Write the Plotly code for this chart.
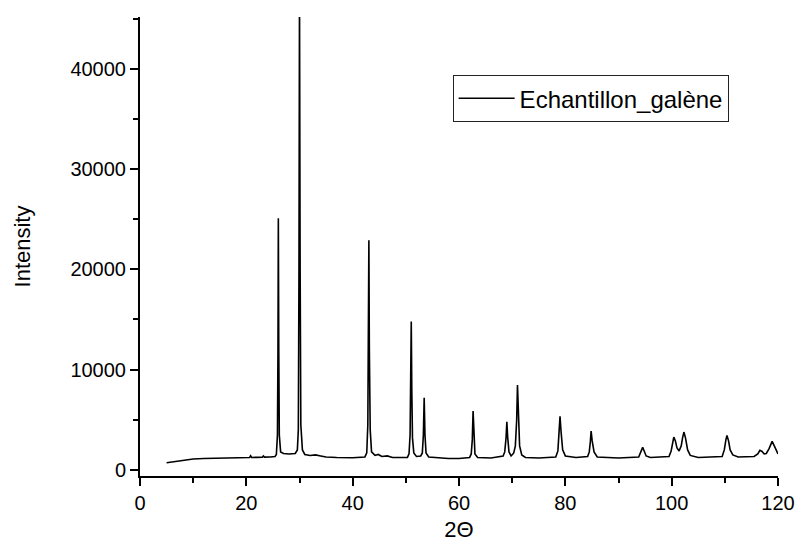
import plotly.graph_objects as go

two_theta = [
    5.0, 6, 7, 8, 9, 10, 12, 14, 16, 18, 20, 20.6, 20.8, 21.0, 22, 23.0, 23.2, 23.4, 24.5, 25.4,
    25.65, 25.85, 25.95, 26.02, 26.1, 26.2, 26.45, 27.0, 28, 29.2, 29.6,
    29.78, 29.9, 30.0, 30.12, 30.25, 30.55, 31, 32, 33, 34, 35, 37, 40, 42.3,
    42.65, 42.85, 42.98, 43.05, 43.14, 43.3, 43.55, 44.2, 44.8, 45.5, 46.5, 47.5, 50.3,
    50.6, 50.8, 50.92, 51.02, 51.12, 51.25, 51.5, 52, 52.8,
    53.1, 53.3, 53.45, 53.6, 53.8, 54.3, 56, 58, 60, 62.0,
    62.3, 62.5, 62.65, 62.8, 63.0, 63.5, 66, 68.3,
    68.6, 68.85, 69.0, 69.15, 69.4, 69.8, 70.3,
    70.6, 70.85, 71.0, 71.15, 71.4, 71.8, 72.5, 75, 78.2,
    78.6, 78.85, 79.0, 79.2, 79.5, 80, 82, 84.2,
    84.5, 84.7, 84.85, 85.05, 85.4, 86, 90, 93.8,
    94.1, 94.35, 94.55, 94.8, 95.2, 96, 99.5,
    99.9, 100.2, 100.4, 100.7, 101.0, 101.4, 101.8,
    102.05, 102.3, 102.6, 103.0, 103.5, 105, 109.5,
    109.9, 110.2, 110.4, 110.7, 111.0, 111.5, 112.5, 115.5,
    116.2, 116.6, 117.0, 117.4, 117.8,
    118.3, 118.7, 118.9, 119.3, 119.7, 120.0,
]
intensity = [
    720, 800, 900, 980, 1050, 1100, 1150, 1180, 1200, 1220, 1230, 1240, 1420, 1250, 1260, 1270, 1400, 1280, 1300, 1350,
    1550, 3500, 12000, 25100, 12000, 3500, 1800, 1650, 1600, 1650, 2000,
    4000, 20000, 48000, 20000, 4500, 2000, 1550, 1450, 1500, 1400, 1300, 1250, 1220, 1300,
    1700, 4500, 12000, 22900, 12000, 4000, 1800, 1450, 1550, 1350, 1400, 1250, 1250,
    1600, 3500, 8000, 14800, 8000, 3200, 1700, 1350, 1400,
    1700, 3500, 7200, 3500, 1700, 1300, 1200, 1150, 1150, 1250,
    1600, 3000, 5870, 3000, 1600, 1250, 1200, 1400,
    1800, 3200, 4800, 3300, 1800, 1400, 1700,
    2400, 5000, 8460, 5000, 2400, 1500, 1250, 1200, 1300,
    1900, 3500, 5340, 3800, 2000, 1400, 1250, 1350,
    1800, 2800, 3880, 2900, 1800, 1300, 1200, 1300,
    1600, 2000, 2260, 1900, 1400, 1250, 1350,
    1900, 2800, 3280, 2900, 2200, 1900, 2400,
    3200, 3780, 3200, 2000, 1450, 1250, 1350,
    2000, 3000, 3450, 2900, 2000, 1500, 1300, 1350,
    1600, 1960, 1850, 1600, 1650,
    2100, 2700, 2850, 2400, 1900, 1590,
]

x_ticks = [0, 20, 40, 60, 80, 100, 120]
y_ticks = [0, 10000, 20000, 30000, 40000]

FONT = "Liberation Sans, Arial, sans-serif"

fig = go.Figure()
fig.add_trace(go.Scatter(
    x=two_theta, y=intensity, mode="lines",
    name="Echantillon_galène",
    line=dict(color="black", width=1.6),
))

fig.update_layout(
    width=798, height=542, autosize=False,
    margin=dict(l=140, r=20, t=17, b=66),
    paper_bgcolor="white", plot_bgcolor="white",
    font=dict(family=FONT, color="black", size=20),
    showlegend=True,
    legend=dict(
        x=0.49, y=0.822, xanchor="left", yanchor="middle",
        bordercolor="#222222", borderwidth=1, bgcolor="white",
        font=dict(family=FONT, size=24, color="black"),
        itemwidth=56, tracegroupgap=0,
    ),
)
fig.update_xaxes(
    range=[0, 120], tickvals=x_ticks, ticktext=[str(v) for v in x_ticks],
    automargin=False,
    showgrid=False, zeroline=False, showline=True, linecolor="black", linewidth=2,
    ticks="outside", ticklen=8, tickwidth=1.8, tickcolor="black",
    minor=dict(dtick=10, ticks="outside", ticklen=5, tickwidth=1.8, tickcolor="black", showgrid=False),
    tickfont=dict(family=FONT, size=20),
    title=dict(text="2Θ", font=dict(family=FONT, size=22), standoff=24),
)
fig.update_yaxes(
    range=[-600, 45150], tickvals=y_ticks, ticktext=[str(v) for v in y_ticks],
    automargin=False,
    showgrid=False, zeroline=False, showline=True, linecolor="black", linewidth=2,
    ticks="outside", ticklen=8, tickwidth=1.8, tickcolor="black",
    minor=dict(dtick=5000, ticks="outside", ticklen=5, tickwidth=1.8, tickcolor="black", showgrid=False),
    tickfont=dict(family=FONT, size=20),
    title=dict(text="Intensity", font=dict(family=FONT, size=22), standoff=34),
)

fig.write_html(
    "out.html",
    config={"displayModeBar": False},
    post_script="document.body.style.margin='0';document.body.style.overflow='hidden';",
)
